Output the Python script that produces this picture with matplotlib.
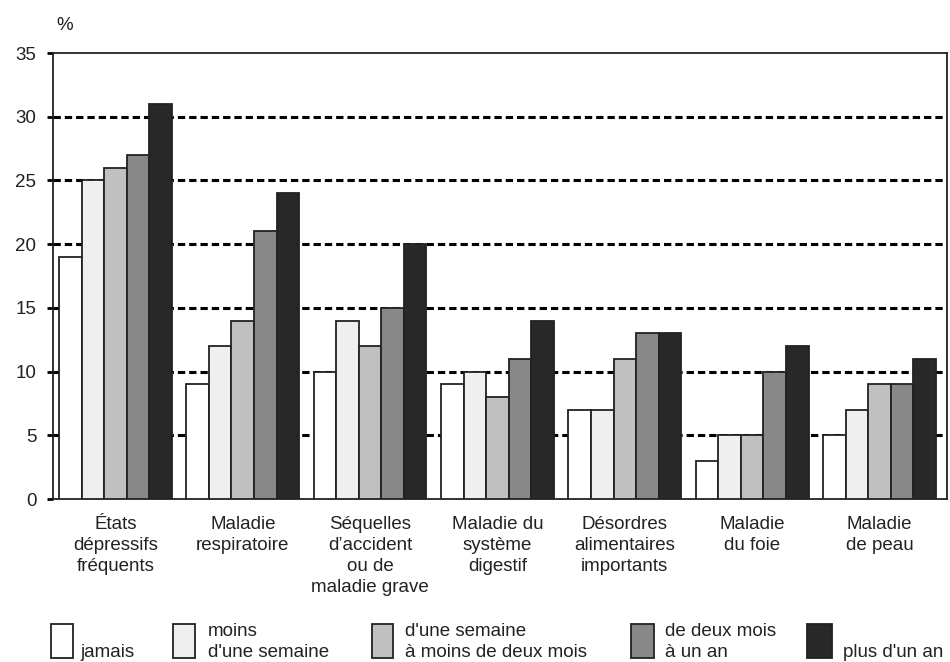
import numpy as np
import matplotlib
matplotlib.use("Agg")
import matplotlib.pyplot as plt
from matplotlib.patches import Rectangle

plt.rcParams['font.family'] = ['Liberation Sans', 'DejaVu Sans']

categories = ["États\ndépressifs\nfréquents", "Maladie\nrespiratoire",
              "Séquelles\nd’accident\nou de\nmaladie grave", "Maladie du\nsystème\ndigestif",
              "Désordres\nalimentaires\nimportants", "Maladie\ndu foie", "Maladie\nde peau"]
series_names = ["jamais", "moins\nd'une semaine", "d'une semaine\nà moins de deux mois",
                "de deux mois\nà un an", "plus d'un an"]
jamais = [19, 9, 10, 9, 7, 3, 5]
moins_semaine = [25, 12, 14, 10, 7, 5, 7]
semaine_deux_mois = [26, 14, 12, 8, 11, 5, 9]
deux_mois_an = [27, 21, 15, 11, 13, 10, 9]
plus_an = [31, 24, 20, 14, 13, 12, 11]
colors = ["#ffffff", "#efefef", "#c0c0c0", "#888888", "#282828"]

series = [jamais, moins_semaine, semaine_deux_mois, deux_mois_an, plus_an]
W, H = 950, 662
fig = plt.figure(figsize=(9.5, 6.62), dpi=100)
ax = fig.add_axes([53 / W, 1 - 499 / H, (947 - 53) / W, (499 - 53) / H])

x = np.arange(len(categories))
bw = 0.177
for k, vals in enumerate(series):
    ax.bar(x + (k - 2) * bw, vals, width=bw, color=colors[k], edgecolor="#222222",
           linewidth=1.3, zorder=3)

ax.set_xlim(-0.49, 6.53)
ax.set_ylim(0, 35)
ax.set_yticks(range(0, 36, 5))
ax.set_xticks(x)
ax.set_xticklabels(categories, fontsize=13.5, color="#222222", linespacing=1.32)
ax.tick_params(axis="x", length=0, pad=12)
ax.tick_params(axis="y", length=4, width=2, pad=8, labelsize=13.5, labelcolor="#222222")
for v in range(5, 31, 5):
    ax.axhline(v, color="black", lw=2.2, linestyle=(0, (2.4, 1.3)), zorder=1)
for s in ax.spines.values():
    s.set_linewidth(1.3)
    s.set_color("#222222")

fig.text(56 / W, 1 - 26 / H, "%", fontsize=13.5, color="#222222", va="center", ha="left")

# legend
boxes = [(51, 73), (173, 195), (372, 393), (631, 654), (807, 832)]
text_x = [80, 208, 405, 665, 843]
for k in range(5):
    x0, x1 = boxes[k]
    fig.add_artist(Rectangle((x0 / W, 1 - 658 / H), (x1 - x0) / W, 34 / H,
                             transform=fig.transFigure, facecolor=colors[k],
                             edgecolor="#222222", linewidth=1.3))
    fig.text(text_x[k] / W, 1 - 657 / H, series_names[k], fontsize=13.5,
             color="#222222", ha="left", va="baseline", linespacing=1.32)

fig.savefig("out.png", dpi=100)
